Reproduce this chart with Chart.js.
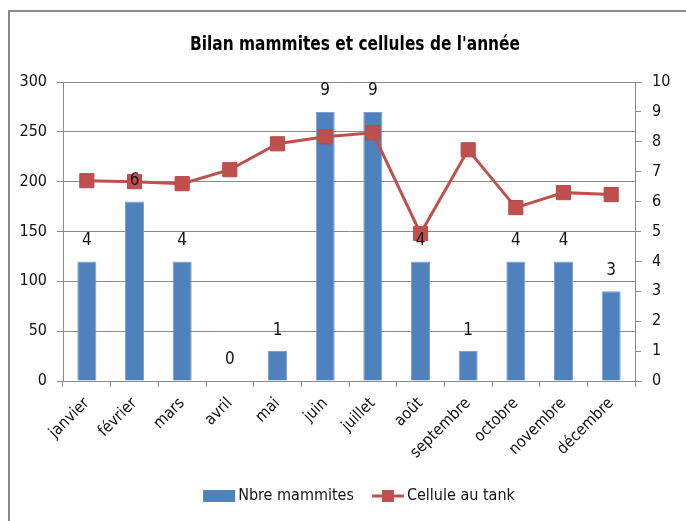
<!DOCTYPE html>
<html lang="fr">
<head>
<meta charset="utf-8">
<title>Bilan mammites et cellules de l'année</title>
<script src="https://cdn.jsdelivr.net/npm/chart.js@4.4.1/dist/chart.umd.min.js"></script>
<style>
    html, body { margin: 0; padding: 0; background: #fff; overflow: hidden; }
    #chart { display: block; }
</style>
</head>
<body>
<canvas id="chart" width="686" height="521"></canvas>
<script>
const months = ['janvier', 'février', 'mars', 'avril', 'mai', 'juin', 'juillet', 'août', 'septembre', 'octobre', 'novembre', 'décembre'];
const mammites = [4, 6, 4, 0, 1, 9, 9, 4, 1, 4, 4, 3];
const cellules = [201, 200, 198, 212, 238, 245, 249, 148, 232, 174, 189, 187];
const leftAxis = { min: 0, max: 300, step: 50 };
const rightAxis = { min: 0, max: 10, step: 1 };

const titleText = "Bilan mammites et cellules de l'année";
const FONT = "'Liberation Sans Narrow', 'DejaVu Sans Condensed', 'Liberation Sans', sans-serif";
const gridColor = '#8a8a8a';
const blue = '#4F81BD';
const red = '#C0504D';

// cadre, titre, étiquettes des barres et légende dessinés à la main
const decorPlugin = {
    id: 'decor',
    beforeDraw(chart) {
        const ctx = chart.ctx;
        ctx.save();
        ctx.fillStyle = '#fff';
        ctx.fillRect(0, 0, chart.width, chart.height);
        ctx.strokeStyle = gridColor;
        ctx.lineWidth = 2;
        ctx.beginPath();
        ctx.moveTo(9, chart.height);
        ctx.lineTo(9, 11);
        ctx.lineTo(chart.width, 11);
        ctx.stroke();
        ctx.restore();
    },
    afterDatasetsDraw(chart) {
        const ctx = chart.ctx;
        const meta = chart.getDatasetMeta(0);
        ctx.save();
        ctx.fillStyle = '#111';
        ctx.font = '17px ' + FONT;
        ctx.textAlign = 'center';
        ctx.textBaseline = 'middle';
        meta.data.forEach((bar, i) => {
            ctx.fillText(String(chart.data.datasets[0].data[i]), bar.x, bar.y - 21);
        });
        ctx.restore();
    },
    afterDraw(chart) {
        const ctx = chart.ctx;
        ctx.save();

        // titre un peu resserré (police type Calibri absente)
        ctx.fillStyle = '#000';
        ctx.font = 'bold 20px ' + FONT;
        ctx.textAlign = 'center';
        ctx.textBaseline = 'middle';
        const tw = ctx.measureText(titleText).width;
        const sx = Math.min(1, 330 / tw);
        ctx.save();
        ctx.translate(355, 45);
        ctx.scale(sx, 1);
        ctx.fillText(titleText, 0, 0);
        ctx.restore();

        // légende
        const ds = chart.data.datasets;
        ctx.font = '16px ' + FONT;
        const keyW = 32, gap = 3, spacing = 18;
        const w1 = ctx.measureText(ds[0].label).width;
        const w2 = ctx.measureText(ds[1].label).width;
        const total = keyW + gap + w1 + spacing + keyW + gap + w2;
        let x = 359 - total / 2;
        const y = 496;

        ctx.fillStyle = blue;
        ctx.fillRect(x, y - 6, keyW, 12);
        x += keyW + gap;
        ctx.fillStyle = '#111';
        ctx.textAlign = 'left';
        ctx.fillText(ds[0].label, x, y);
        x += w1 + spacing;

        ctx.strokeStyle = red;
        ctx.lineWidth = 3;
        ctx.beginPath();
        ctx.moveTo(x, y);
        ctx.lineTo(x + keyW, y);
        ctx.stroke();
        ctx.fillStyle = red;
        ctx.fillRect(x + keyW / 2 - 6, y - 6, 12, 12);
        x += keyW + gap;
        ctx.fillStyle = '#111';
        ctx.fillText(ds[1].label, x, y);

        ctx.restore();
    }
};

new Chart(document.getElementById('chart'), {
    type: 'bar',
    data: {
        labels: months,
        datasets: [
            {
                type: 'bar',
                label: 'Nbre mammites',
                data: mammites,
                yAxisID: 'y1',
                backgroundColor: blue,
                borderColor: '#7d9fd0',
                borderWidth: 1,
                categoryPercentage: 1,
                barPercentage: 0.4,
                order: 2
            },
            {
                type: 'line',
                label: 'Cellule au tank',
                data: cellules,
                yAxisID: 'y',
                borderColor: red,
                borderWidth: 3,
                backgroundColor: red,
                pointStyle: 'rect',
                pointRadius: 10,
                pointBackgroundColor: red,
                pointBorderColor: '#b84a47',
                pointBorderWidth: 1,
                tension: 0,
                order: 1
            }
        ]
    },
    options: {
        responsive: false,
        animation: false,
        layout: { padding: { top: 82, left: 0, right: 0, bottom: 0 } },
        plugins: {
            legend: { display: false },
            title: { display: false },
            tooltip: { enabled: false }
        },
        scales: {
            x: {
                offset: true,
                grid: {
                    offset: true,
                    drawOnChartArea: false,
                    color: gridColor,
                    tickLength: 6
                },
                border: { color: gridColor },
                ticks: {
                    color: '#111',
                    font: { family: FONT, size: 16 },
                    minRotation: 45,
                    maxRotation: 45,
                    padding: 7
                },
                afterFit(scale) { scale.height = 140; }
            },
            y: {
                position: 'left',
                min: leftAxis.min,
                max: leftAxis.max,
                grid: { color: gridColor, tickLength: 6 },
                border: { color: gridColor },
                ticks: {
                    stepSize: leftAxis.step,
                    color: '#111',
                    font: { family: FONT, size: 16 },
                    padding: 10
                },
                afterFit(scale) { scale.width = 63; }
            },
            y1: {
                position: 'right',
                min: rightAxis.min,
                max: rightAxis.max,
                grid: { drawOnChartArea: false, color: gridColor, tickLength: 6 },
                border: { color: gridColor },
                ticks: {
                    stepSize: rightAxis.step,
                    color: '#111',
                    font: { family: FONT, size: 16 },
                    padding: 11
                },
                afterFit(scale) { scale.width = 51; }
            }
        }
    },
    plugins: [decorPlugin]
});
</script>
</body>
</html>
